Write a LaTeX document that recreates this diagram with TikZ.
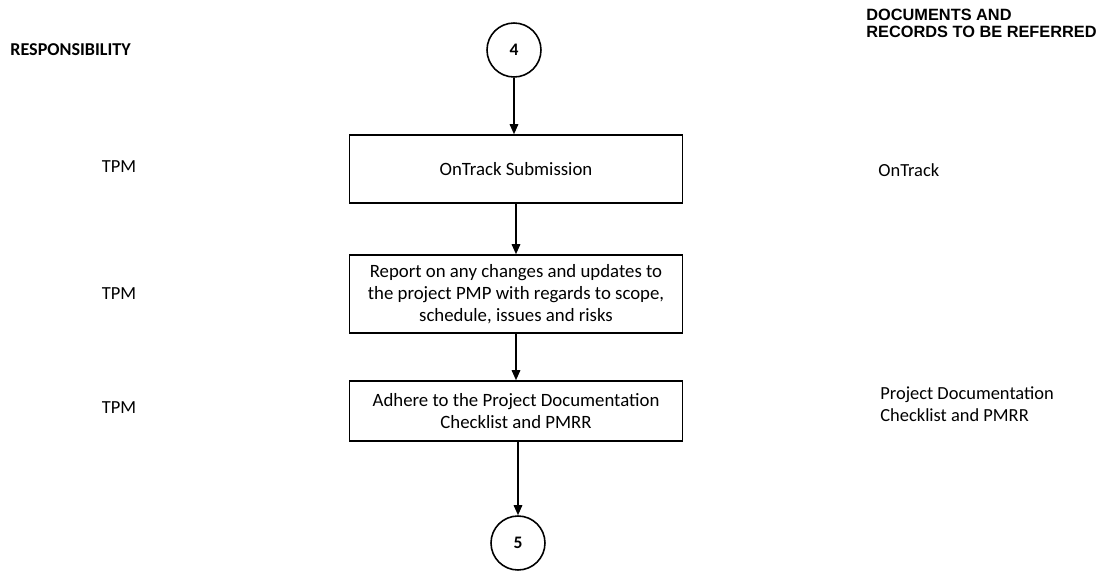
\documentclass[tikz,border=0pt]{standalone}
\usepackage{fontspec}
\setmainfont{Carlito}
\newfontfamily\headfont{Liberation Sans}
\usetikzlibrary{arrows.meta}
\begin{document}
\begin{tikzpicture}[x=0.02cm,y=-0.02cm,
		>={Triangle[length=2mm,width=1.7mm]},
		flow/.style={->,line width=0.9pt},
		stepbox/.style={draw,line width=0.9pt,minimum width=6.66cm,align=center,
			font=\fontsize{10.7}{12.7}\selectfont,inner sep=0pt},
		connector/.style={draw,circle,line width=0.9pt,minimum size=1.08cm,inner sep=0pt,
			font=\bfseries\fontsize{10}{12}\selectfont},
		sidetext/.style={font=\fontsize{10.5}{12.5}\selectfont,align=left,inner sep=0pt}]
		\useasboundingbox (0,0) rectangle (1110,572);
		% headings
		\node[anchor=west,inner sep=0pt,font=\bfseries\fontsize{10.3}{12}\selectfont] (resp) at (10,50) {RESPONSIBILITY};
		\node[anchor=west,inner sep=0pt,align=left,font=\headfont\bfseries\fontsize{9.3}{9.8}\selectfont] (docs) at (866,23) {DOCUMENTS AND\\RECORDS TO BE REFERRED};
		% flow
		\node[connector] (c4) at (514,50) {4};
		\node[stepbox,minimum height=1.36cm] (box1) at (516,169) {OnTrack Submission};
		\node[stepbox,minimum height=1.56cm] (box2) at (516,294) {Report on any changes and updates to\\the project PMP with regards to scope,\\schedule, issues and risks};
		\node[stepbox,minimum height=1.2cm] (box3) at (516,411) {Adhere to the Project Documentation\\Checklist and PMRR};
		\node[connector] (c5) at (518,543) {5};
		\draw[flow] (c4.south) -- (c4.south |- box1.north);
		\draw[flow] (box1.south) -- (box2.north);
		\draw[flow] (box2.south) -- (box3.north);
		\draw[flow] (box3.south -| c5) -- (c5.north);
		% responsibility column
		\node[sidetext] (tpm1) at (119,167) {TPM};
		\node[sidetext] (tpm2) at (119,294) {TPM};
		\node[sidetext] (tpm3) at (119,408) {TPM};
		% documents column
		\node[sidetext,anchor=west] (doc1) at (878,170) {OnTrack};
		\node[sidetext,anchor=west] (doc2) at (880,404) {Project Documentation\\Checklist and PMRR};
	\end{tikzpicture}
\end{document}
